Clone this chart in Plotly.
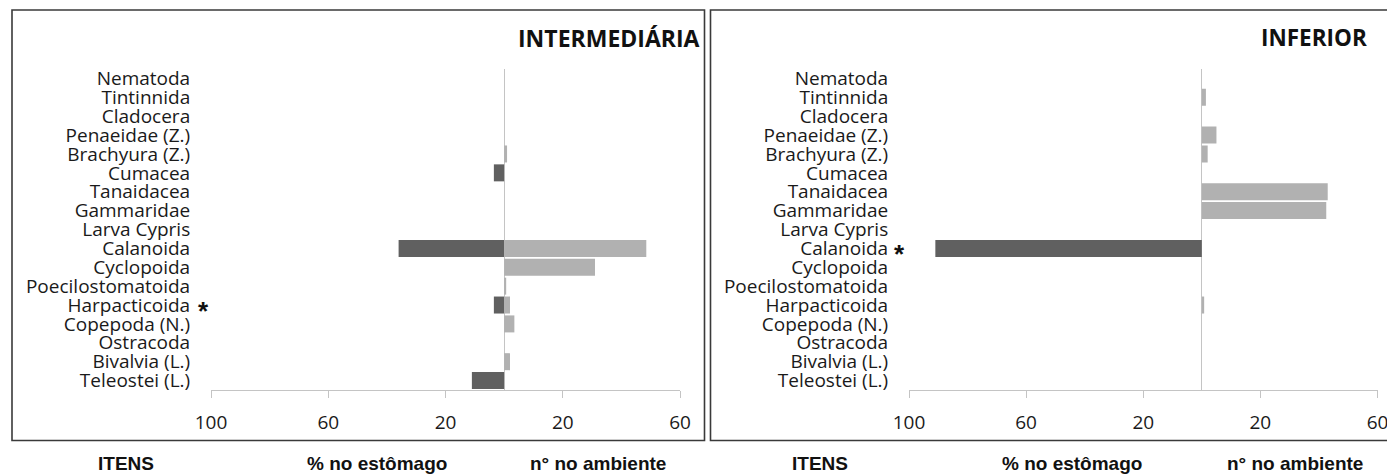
import plotly.graph_objects as go

# Prey items (top to bottom)
categories = [
    "Nematoda", "Tintinnida", "Cladocera", "Penaeidae (Z.)", "Brachyura (Z.)",
    "Cumacea", "Tanaidacea", "Gammaridae", "Larva Cypris", "Calanoida",
    "Cyclopoida", "Poecilostomatoida", "Harpacticoida", "Copepoda (N.)",
    "Ostracoda", "Bivalvia (L.)", "Teleostei (L.)",
]

# INTERMEDIÁRIA: % in stomach (left side) and n° in environment (right side)
inter_estomago = [0, 0, 0, 0, 0, 3.5, 0, 0, 0, 36, 0, 0, 3.5, 0, 0, 0, 11]
inter_ambiente = [0, 0, 0, 0, 1, 0, 0, 0, 0, 48.5, 31, 0.7, 2, 3.5, 0, 2, 0]

# INFERIOR
inf_estomago = [0, 0, 0, 0, 0, 0, 0, 0, 0, 91, 0, 0, 0, 0, 0, 0, 0]
inf_ambiente = [0, 1.4, 0, 5, 2, 0, 43, 42.5, 0, 0, 0, 0, 0.8, 0, 0, 0, 0]

tick_vals = [-100, -60, -20, 20, 60]
tick_text = ["100", "60", "20", "20", "60"]

W, H = 1387, 475
DARK = "#606060"
LIGHT = "#b1b1b1"
AXIS = "#c4c4c4"
TXT = "#1a1a1a"
FONT = "Open Sans"


def px(x):
    return x / W


def py(y):
    return 1 - y / H


fig = go.Figure()

panels = [
    ("x", "y", inter_estomago, inter_ambiente),
    ("x2", "y2", inf_estomago, inf_ambiente),
]
for xa, ya, est, amb in panels:
    fig.add_trace(go.Bar(
        y=categories, x=[-v for v in est], orientation="h",
        marker=dict(color=DARK, line=dict(width=0)),
        xaxis=xa, yaxis=ya, hoverinfo="skip", showlegend=False,
    ))
    fig.add_trace(go.Bar(
        y=categories, x=amb, orientation="h",
        marker=dict(color=LIGHT, line=dict(width=0)),
        xaxis=xa, yaxis=ya, hoverinfo="skip", showlegend=False,
    ))

xaxis_common = dict(
    range=[-100, 60], tickmode="array", tickvals=tick_vals, ticktext=tick_text,
    showgrid=False, zeroline=True, zerolinecolor=AXIS, zerolinewidth=1.2,
    showline=True, linecolor=AXIS, linewidth=1.2,
    ticks="outside", ticklen=7, tickcolor=AXIS, tickwidth=1.2,
    tickfont=dict(family=FONT, size=19, color=TXT),
    ticklabelstandoff=8, ticklabeloverflow="allow",
    fixedrange=True, automargin=False, layer="above traces",
)
yaxis_common = dict(
    type="category", categoryorder="array", categoryarray=categories,
    tickmode="array", tickvals=categories, ticktext=categories,
    range=[len(categories) - 0.5, -0.5],
    showgrid=False, zeroline=False, showline=False,
    ticks="outside", ticklen=16, tickcolor="rgba(0,0,0,0)",
    tickfont=dict(family=FONT, size=19, color=TXT),
    fixedrange=True, automargin=False,
    domain=[py(390), py(69)],
)

fig.update_layout(
    width=W, height=H,
    margin=dict(l=0, r=0, t=0, b=0, autoexpand=False),
    paper_bgcolor="white", plot_bgcolor="white",
    barmode="overlay", bargap=0.1,
    xaxis=dict(domain=[px(211), px(680)], anchor="y", **xaxis_common),
    yaxis=dict(anchor="x", **yaxis_common),
    xaxis2=dict(domain=[px(909), px(1377.5)], anchor="y2", **xaxis_common),
    yaxis2=dict(anchor="x2", **yaxis_common),
)

# Panel frames
fig.add_shape(type="rect", xref="paper", yref="paper",
              x0=px(12), x1=px(704.5), y0=py(440.5), y1=py(10),
              line=dict(color="#3a3a3a", width=1.6), fillcolor="rgba(0,0,0,0)")
fig.add_shape(type="rect", xref="paper", yref="paper",
              x0=px(710.5), x1=px(1392), y0=py(440.5), y1=py(10),
              line=dict(color="#3a3a3a", width=1.6), fillcolor="rgba(0,0,0,0)")

# Panel titles
fig.add_annotation(text="<b>INTERMEDIÁRIA</b>", xref="paper", yref="paper",
                   x=px(702), y=py(38), xanchor="right", yanchor="middle",
                   showarrow=False, font=dict(family=FONT, size=23, color="#111111"))
fig.add_annotation(text="<b>INFERIOR</b>", xref="paper", yref="paper",
                   x=px(1369), y=py(38), xanchor="right", yanchor="middle",
                   showarrow=False, font=dict(family=FONT, size=22.5, color="#111111"))

# Significance marks
fig.add_annotation(text="<b>*</b>", xref="paper", yref="y", x=px(203.5), y="Harpacticoida",
                   xanchor="center", yanchor="middle", yshift=-6, showarrow=False,
                   font=dict(family="Liberation Sans", size=26, color="#111111"))
fig.add_annotation(text="<b>*</b>", xref="paper", yref="y2", x=px(899.5), y="Calanoida",
                   xanchor="center", yanchor="middle", yshift=-6, showarrow=False,
                   font=dict(family="Liberation Sans", size=26, color="#111111"))

# Column captions below each panel
captions = [
    ("ITENS", 126), ("% no estômago", 376.5), ("n° no ambiente", 598),
    ("ITENS", 820), ("% no estômago", 1071.5), ("n° no ambiente", 1294.5),
]
for text, cx in captions:
    fig.add_annotation(text=f"<b>{text}</b>", xref="paper", yref="paper",
                       x=px(cx), y=py(463), xanchor="center", yanchor="middle",
                       showarrow=False,
                       font=dict(family="Liberation Sans", size=19, color="#111111"))

fig.write_html("out.html", config={"displayModeBar": False})
